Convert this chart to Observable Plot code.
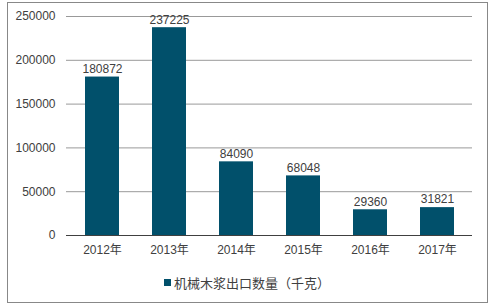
<!DOCTYPE html>
<html><head><meta charset="utf-8">
<script src="https://cdn.jsdelivr.net/npm/d3@7"></script>
<script src="https://cdn.jsdelivr.net/npm/@observablehq/plot@0.6"></script>
<style>
body{margin:0;background:#fff;font-family:"Liberation Sans","Noto Sans CJK SC",sans-serif;}
#wrap{position:relative;width:495px;height:307px;overflow:hidden;}
#frame{position:absolute;left:7px;top:2px;width:479px;height:299px;border:1px solid #888;box-sizing:content-box;pointer-events:none;}
#legend{position:absolute;left:164px;top:274px;height:16px;display:flex;align-items:center;font-size:13px;color:#404040;font-family:"Noto Sans CJK SC","Liberation Sans",sans-serif;}
#legend span.sw{display:inline-block;width:7px;height:7px;background:#01506b;margin-right:3px;}
</style></head>
<body><div id="wrap"><div id="chart"></div><div id="legend"><span class="sw"></span><span id="legtext"></span></div><div id="frame"></div></div>
<script>
const years = ["2012年","2013年","2014年","2015年","2016年","2017年"];
const values = [180872, 237225, 84090, 68048, 29360, 31821];
const yTicks = [0, 50000, 100000, 150000, 200000, 250000];
const seriesName = "机械木浆出口数量（千克）";

const data = years.map((y, i) => ({year: y, value: values[i]}));
document.getElementById("legtext").textContent = seriesName;

const chart = Plot.plot({
  width: 495,
  height: 265,
  marginTop: 16,
  marginBottom: 30,
  marginLeft: 66,
  marginRight: 23,
  style: {fontFamily: '"Liberation Sans","Noto Sans CJK SC",sans-serif', fontSize: "12px", color: "#404040", background: "transparent"},
  x: {domain: years, paddingInner: 0.5, paddingOuter: 0.25, label: null},
  y: {domain: [0, 250000], label: null},
  marks: [
    Plot.gridY(yTicks.filter(d => d > 0), {stroke: "#999", strokeOpacity: 1, strokeWidth: 1}),
    Plot.barY(data, {x: "year", y: "value", fill: "#01506b"}),
    Plot.ruleY([0], {stroke: "#404040", strokeWidth: 1}),
    Plot.axisY(yTicks, {tickSize: 0, tickPadding: 11, tickFormat: d => String(d), fontSize: 12, fill: "#404040"}),
    Plot.axisX({tickSize: 0, tickPadding: 10, fontSize: 12, fill: "#404040"}),
    Plot.text(data, {x: "year", y: "value", text: d => String(d.value), dy: -8, fontSize: 12, fill: "#404040"})
  ]
});
document.getElementById("chart").appendChild(chart);
</script></body></html>
